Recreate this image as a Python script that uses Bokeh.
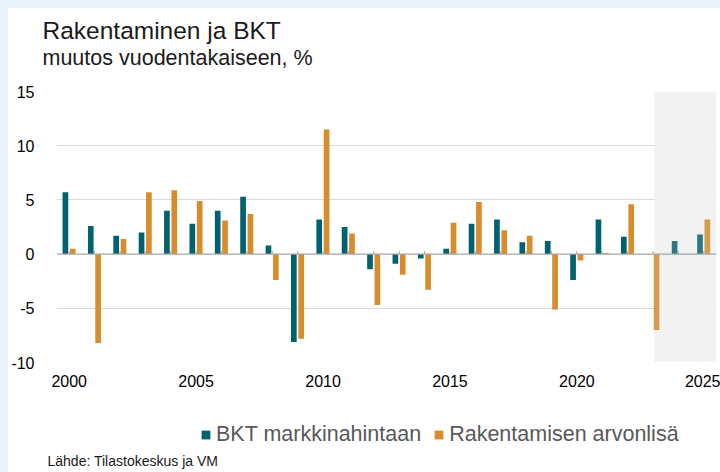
from bokeh.plotting import figure
from bokeh.layouts import column
from bokeh.models import (Range1d, FixedTicker, Span, Legend, LegendItem,
                          ColumnDataSource, BoxAnnotation, Label,
                          CustomJSTickFormatter)
from bokeh.embed import file_html
from bokeh.resources import INLINE

years = list(range(2000, 2026))
bkt = [5.7, 2.6, 1.7, 2.0, 4.0, 2.8, 4.0, 5.3, 0.8, -8.1, 3.2, 2.5, -1.4,
       -0.9, -0.4, 0.5, 2.8, 3.2, 1.1, 1.2, -2.4, 3.2, 1.6, 0.0, 1.2, 1.8]
rak = [0.5, -8.2, 1.4, 5.7, 5.9, 4.9, 3.1, 3.7, -2.4, -7.8, 11.5, 1.9, -4.7,
       -1.9, -3.3, 2.9, 4.8, 2.2, 1.7, -5.1, -0.6, 0.1, 4.6, -7.0, 0.0, 3.2]
forecast_start = 2023
x_labels = [2000, 2005, 2010, 2015, 2020, 2025]
y_ticks = [-10, -5, 0, 5, 10, 15]
series_names = ["BKT markkinahintaan", "Rakentamisen arvonlisä"]

TEAL, TEAL_F = "#00626f", "#2a7985"
ORANGE, ORANGE_F = "#d98c2b", "#d69a4c"
FONT = "Liberation Sans"
W = 712


def blank(height):
    f = figure(width=W, height=height, output_backend="svg", toolbar_location=None,
               x_axis_type=None, y_axis_type=None,
               min_border_left=0, min_border_right=0,
               min_border_top=0, min_border_bottom=0,
               x_range=Range1d(0, 1), y_range=Range1d(0, 1),
               frame_align=False)
    f.grid.visible = False
    f.outline_line_color = None
    f.background_fill_color = "white"
    f.border_fill_color = "white"
    return f


# ---------- header ----------
head = blank(71)
head.add_layout(Label(x=34, y=49.5, x_units="screen", y_units="screen",
                      text="Rakentaminen ja BKT", text_font=FONT,
                      text_font_size="24.5px", text_color="#1a1a1a",
                      text_baseline="middle"))
head.add_layout(Label(x=34, y=22, x_units="screen", y_units="screen",
                      text="muutos vuodentakaiseen, %", text_font=FONT,
                      text_font_size="21.5px", text_color="#1a1a1a",
                      text_baseline="middle"))

# ---------- main chart ----------
src = ColumnDataSource(dict(
    x_b=[y - 0.15 for y in years],
    x_r=[y + 0.14 for y in years],
    bkt=bkt, rak=rak,
    c_b=[TEAL_F if y >= forecast_start else TEAL for y in years],
    c_r=[ORANGE_F if y >= forecast_start else ORANGE for y in years],
))

p = figure(width=W, height=319, output_backend="svg", toolbar_location=None,
           x_range=Range1d(1999.5, 2025.5), y_range=Range1d(-10, 15),
           min_border_left=47, min_border_right=4, min_border_top=12,
           min_border_bottom=36, frame_align=False)
p.background_fill_color = "white"
p.border_fill_color = "white"
p.outline_line_color = None

p.add_layout(BoxAnnotation(left=forecast_start + 0.05, fill_color="#f2f2f2",
                           fill_alpha=1.0, line_color=None, level="underlay"))

p.xgrid.visible = False
p.ygrid.ticker = FixedTicker(ticks=[t for t in y_ticks if t != 0])
p.ygrid.grid_line_color = "#d9d9d9"
p.ygrid.grid_line_width = 1

p.vbar(x="x_b", top="bkt", width=0.224, source=src, fill_color="c_b",
       line_color=None)
p.vbar(x="x_r", top="rak", width=0.224, source=src, fill_color="c_r",
       line_color=None)

p.add_layout(Span(location=0, dimension="width", line_color="#a6a6a6",
                  line_width=1.3))
p.segment(x0=years, y0=[0] * len(years), x1=years, y1=[0.28] * len(years),
          line_color="#a6a6a6", line_width=1)

p.yaxis.ticker = FixedTicker(ticks=y_ticks)
p.yaxis.formatter = CustomJSTickFormatter(code="return tick.toString();")
p.yaxis.axis_line_color = None
p.yaxis.major_tick_line_color = None
p.yaxis.minor_tick_line_color = None
p.yaxis.major_tick_out = 0
p.yaxis.major_tick_in = 0
p.yaxis.minor_tick_out = 0
p.yaxis.major_label_standoff = 22
p.yaxis.major_label_text_font = FONT
p.yaxis.major_label_text_font_size = "16px"
p.yaxis.major_label_text_color = "#000000"

p.xaxis.ticker = FixedTicker(ticks=x_labels)
p.xaxis.axis_line_color = None
p.xaxis.major_tick_line_color = None
p.xaxis.minor_tick_line_color = None
p.xaxis.major_tick_out = 0
p.xaxis.major_tick_in = 0
p.xaxis.minor_tick_out = 0
p.xaxis.major_label_standoff = 12
p.xaxis.major_label_text_font = FONT
p.xaxis.major_label_text_font_size = "16px"
p.xaxis.major_label_text_color = "#000000"

# ---------- footer: legend + source ----------
foot = blank(74)
# legend keys take their style from off-screen proxies of the first data points
lb = foot.vbar(x=[years[0]], top=[bkt[0]], width=0.1, fill_color=TEAL, line_color=None)
lr = foot.vbar(x=[years[0]], top=[rak[0]], width=0.1, fill_color=ORANGE, line_color=None)
legend = Legend(items=[LegendItem(label=series_names[0], renderers=[lb], index=0),
                       LegendItem(label=series_names[1], renderers=[lr], index=0)],
                location=(192, 25), orientation="horizontal",
                glyph_width=11, glyph_height=11, label_standoff=5, spacing=12,
                padding=0, margin=0, border_line_color=None,
                background_fill_alpha=0, label_text_font=FONT,
                label_text_font_size="21.5px", label_text_color="#595959")
foot.add_layout(legend, "center")
foot.add_layout(Label(x=39, y=11.5, x_units="screen", y_units="screen",
                      text="Lähde: Tilastokeskus ja VM", text_font=FONT,
                      text_font_size="14px", text_color="#1a1a1a",
                      text_baseline="middle"))

layout = column(head, p, foot, spacing=0,
                styles={"background-color": "white"})

html = file_html(layout, INLINE)
style = ("<style>html, body {background-color:#e9f1fa !important;} "
         "body {padding:8px 0 0 8px !important;}</style>")
html = html.replace("</head>", style + "</head>", 1)
open("out.html", "w").write(html)
